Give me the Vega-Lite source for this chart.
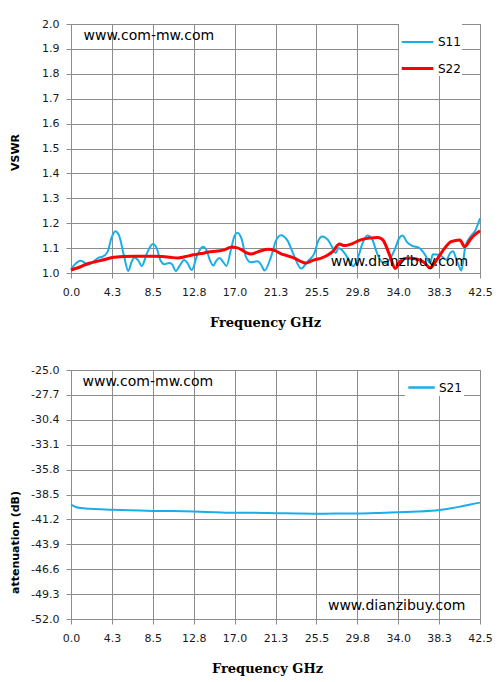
{
  "$schema": "https://vega.github.io/schema/vega-lite/v6.json",
  "background": "white",
  "padding": {"left": 8, "top": 17, "right": 5, "bottom": 5},
  "spacing": 33,
  "config": {
    "view": {"stroke": "#8c8c8c"},
    "axis": {
      "labelFont": "DejaVu Sans",
      "labelFontSize": 11,
      "labelColor": "#1a1a1a",
      "labelOverlap": false,
      "labelFlush": false,
      "gridColor": "#8c8c8c",
      "gridOpacity": 1,
      "domainColor": "#8c8c8c",
      "tickColor": "#8c8c8c",
      "tickSize": 5,
      "tickCount": 30,
      "titleColor": "#000000"
    }
  },
  "datasets": {
    "vswr": [
      {"f": 0.0, "v": 1.016, "s": "S11"}, {"f": 0.5, "v": 1.038, "s": "S11"}, {"f": 0.95, "v": 1.049, "s": "S11"}, {"f": 1.3, "v": 1.045, "s": "S11"}, {"f": 1.65, "v": 1.033, "s": "S11"}, {"f": 2.0, "v": 1.036, "s": "S11"}, {"f": 2.4, "v": 1.048, "s": "S11"}, {"f": 2.8, "v": 1.06, "s": "S11"}, {"f": 3.3, "v": 1.066, "s": "S11"}, {"f": 3.8, "v": 1.085, "s": "S11"}, {"f": 4.2, "v": 1.14, "s": "S11"}, {"f": 4.6, "v": 1.168, "s": "S11"}, {"f": 5.0, "v": 1.15, "s": "S11"}, {"f": 5.5, "v": 1.07, "s": "S11"}, {"f": 5.95, "v": 1.008, "s": "S11"}, {"f": 6.3, "v": 1.045, "s": "S11"}, {"f": 6.6, "v": 1.062, "s": "S11"}, {"f": 7.0, "v": 1.05, "s": "S11"}, {"f": 7.35, "v": 1.028, "s": "S11"}, {"f": 7.9, "v": 1.08, "s": "S11"}, {"f": 8.5, "v": 1.116, "s": "S11"}, {"f": 8.9, "v": 1.1, "s": "S11"}, {"f": 9.3, "v": 1.05, "s": "S11"}, {"f": 9.7, "v": 1.035, "s": "S11"}, {"f": 10.2, "v": 1.04, "s": "S11"}, {"f": 10.5, "v": 1.035, "s": "S11"}, {"f": 10.9, "v": 1.008, "s": "S11"}, {"f": 11.3, "v": 1.03, "s": "S11"}, {"f": 11.75, "v": 1.052, "s": "S11"}, {"f": 12.1, "v": 1.04, "s": "S11"}, {"f": 12.55, "v": 1.012, "s": "S11"}, {"f": 13.1, "v": 1.07, "s": "S11"}, {"f": 13.7, "v": 1.105, "s": "S11"}, {"f": 14.1, "v": 1.09, "s": "S11"}, {"f": 14.45, "v": 1.05, "s": "S11"}, {"f": 14.8, "v": 1.03, "s": "S11"}, {"f": 15.1, "v": 1.05, "s": "S11"}, {"f": 15.45, "v": 1.06, "s": "S11"}, {"f": 15.8, "v": 1.045, "s": "S11"}, {"f": 16.15, "v": 1.028, "s": "S11"}, {"f": 16.6, "v": 1.09, "s": "S11"}, {"f": 17.0, "v": 1.15, "s": "S11"}, {"f": 17.3, "v": 1.162, "s": "S11"}, {"f": 17.7, "v": 1.14, "s": "S11"}, {"f": 18.2, "v": 1.063, "s": "S11"}, {"f": 18.7, "v": 1.043, "s": "S11"}, {"f": 19.4, "v": 1.047, "s": "S11"}, {"f": 19.8, "v": 1.03, "s": "S11"}, {"f": 20.1, "v": 1.01, "s": "S11"}, {"f": 20.8, "v": 1.067, "s": "S11"}, {"f": 21.3, "v": 1.13, "s": "S11"}, {"f": 21.8, "v": 1.152, "s": "S11"}, {"f": 22.5, "v": 1.13, "s": "S11"}, {"f": 23.2, "v": 1.067, "s": "S11"}, {"f": 23.9, "v": 1.018, "s": "S11"}, {"f": 24.6, "v": 1.047, "s": "S11"}, {"f": 25.3, "v": 1.08, "s": "S11"}, {"f": 25.7, "v": 1.13, "s": "S11"}, {"f": 26.1, "v": 1.147, "s": "S11"}, {"f": 26.7, "v": 1.133, "s": "S11"}, {"f": 27.2, "v": 1.1, "s": "S11"}, {"f": 27.5, "v": 1.08, "s": "S11"}, {"f": 27.8, "v": 1.1, "s": "S11"}, {"f": 28.2, "v": 1.09, "s": "S11"}, {"f": 28.6, "v": 1.07, "s": "S11"}, {"f": 29.0, "v": 1.045, "s": "S11"}, {"f": 29.3, "v": 1.027, "s": "S11"}, {"f": 29.8, "v": 1.06, "s": "S11"}, {"f": 30.3, "v": 1.12, "s": "S11"}, {"f": 30.8, "v": 1.151, "s": "S11"}, {"f": 31.3, "v": 1.135, "s": "S11"}, {"f": 31.8, "v": 1.08, "s": "S11"}, {"f": 32.3, "v": 1.045, "s": "S11"}, {"f": 32.7, "v": 1.04, "s": "S11"}, {"f": 33.2, "v": 1.06, "s": "S11"}, {"f": 33.7, "v": 1.1, "s": "S11"}, {"f": 34.1, "v": 1.14, "s": "S11"}, {"f": 34.45, "v": 1.151, "s": "S11"}, {"f": 34.9, "v": 1.125, "s": "S11"}, {"f": 35.4, "v": 1.11, "s": "S11"}, {"f": 36.2, "v": 1.1, "s": "S11"}, {"f": 36.8, "v": 1.073, "s": "S11"}, {"f": 37.3, "v": 1.04, "s": "S11"}, {"f": 37.6, "v": 1.075, "s": "S11"}, {"f": 38.3, "v": 1.073, "s": "S11"}, {"f": 39.0, "v": 1.053, "s": "S11"}, {"f": 39.4, "v": 1.08, "s": "S11"}, {"f": 39.7, "v": 1.087, "s": "S11"}, {"f": 40.0, "v": 1.06, "s": "S11"}, {"f": 40.3, "v": 1.03, "s": "S11"}, {"f": 40.55, "v": 1.01, "s": "S11"}, {"f": 41.0, "v": 1.11, "s": "S11"}, {"f": 41.6, "v": 1.15, "s": "S11"}, {"f": 42.0, "v": 1.17, "s": "S11"}, {"f": 42.5, "v": 1.22, "s": "S11"},
      {"f": 0.0, "v": 1.012, "s": "S22"}, {"f": 0.8, "v": 1.022, "s": "S22"}, {"f": 1.8, "v": 1.038, "s": "S22"}, {"f": 2.5, "v": 1.045, "s": "S22"}, {"f": 3.3, "v": 1.052, "s": "S22"}, {"f": 4.3, "v": 1.062, "s": "S22"}, {"f": 5.5, "v": 1.066, "s": "S22"}, {"f": 6.6, "v": 1.067, "s": "S22"}, {"f": 7.5, "v": 1.067, "s": "S22"}, {"f": 8.5, "v": 1.067, "s": "S22"}, {"f": 9.5, "v": 1.066, "s": "S22"}, {"f": 10.3, "v": 1.063, "s": "S22"}, {"f": 11.1, "v": 1.06, "s": "S22"}, {"f": 11.8, "v": 1.065, "s": "S22"}, {"f": 12.7, "v": 1.073, "s": "S22"}, {"f": 13.5, "v": 1.078, "s": "S22"}, {"f": 14.3, "v": 1.084, "s": "S22"}, {"f": 15.2, "v": 1.088, "s": "S22"}, {"f": 16.0, "v": 1.094, "s": "S22"}, {"f": 16.7, "v": 1.104, "s": "S22"}, {"f": 17.2, "v": 1.102, "s": "S22"}, {"f": 17.7, "v": 1.094, "s": "S22"}, {"f": 18.2, "v": 1.082, "s": "S22"}, {"f": 18.7, "v": 1.076, "s": "S22"}, {"f": 19.4, "v": 1.085, "s": "S22"}, {"f": 20.45, "v": 1.095, "s": "S22"}, {"f": 21.2, "v": 1.09, "s": "S22"}, {"f": 21.9, "v": 1.076, "s": "S22"}, {"f": 22.6, "v": 1.068, "s": "S22"}, {"f": 23.2, "v": 1.06, "s": "S22"}, {"f": 23.8, "v": 1.048, "s": "S22"}, {"f": 24.4, "v": 1.04, "s": "S22"}, {"f": 24.9, "v": 1.047, "s": "S22"}, {"f": 25.3, "v": 1.053, "s": "S22"}, {"f": 26.0, "v": 1.06, "s": "S22"}, {"f": 26.6, "v": 1.07, "s": "S22"}, {"f": 27.2, "v": 1.087, "s": "S22"}, {"f": 27.9, "v": 1.116, "s": "S22"}, {"f": 28.4, "v": 1.11, "s": "S22"}, {"f": 29.1, "v": 1.116, "s": "S22"}, {"f": 30.1, "v": 1.133, "s": "S22"}, {"f": 31.0, "v": 1.14, "s": "S22"}, {"f": 31.9, "v": 1.143, "s": "S22"}, {"f": 32.4, "v": 1.133, "s": "S22"}, {"f": 33.1, "v": 1.073, "s": "S22"}, {"f": 33.7, "v": 1.018, "s": "S22"}, {"f": 34.2, "v": 1.047, "s": "S22"}, {"f": 34.9, "v": 1.06, "s": "S22"}, {"f": 35.9, "v": 1.056, "s": "S22"}, {"f": 36.8, "v": 1.04, "s": "S22"}, {"f": 37.3, "v": 1.02, "s": "S22"}, {"f": 38.0, "v": 1.053, "s": "S22"}, {"f": 38.7, "v": 1.093, "s": "S22"}, {"f": 39.5, "v": 1.126, "s": "S22"}, {"f": 40.4, "v": 1.133, "s": "S22"}, {"f": 40.9, "v": 1.106, "s": "S22"}, {"f": 41.6, "v": 1.14, "s": "S22"}, {"f": 42.0, "v": 1.155, "s": "S22"}, {"f": 42.5, "v": 1.17, "s": "S22"}
    ],
    "att": [
      {"f": 0.0, "v": -39.6, "s": "S21"}, {"f": 0.5, "v": -39.85, "s": "S21"}, {"f": 1.0, "v": -39.97, "s": "S21"}, {"f": 2.0, "v": -40.05, "s": "S21"}, {"f": 4.3, "v": -40.15, "s": "S21"}, {"f": 6.0, "v": -40.22, "s": "S21"}, {"f": 8.5, "v": -40.28, "s": "S21"}, {"f": 10.5, "v": -40.3, "s": "S21"}, {"f": 12.8, "v": -40.35, "s": "S21"}, {"f": 15.0, "v": -40.42, "s": "S21"}, {"f": 17.0, "v": -40.48, "s": "S21"}, {"f": 19.0, "v": -40.48, "s": "S21"}, {"f": 21.3, "v": -40.52, "s": "S21"}, {"f": 23.5, "v": -40.56, "s": "S21"}, {"f": 25.5, "v": -40.58, "s": "S21"}, {"f": 27.5, "v": -40.57, "s": "S21"}, {"f": 29.8, "v": -40.56, "s": "S21"}, {"f": 32.0, "v": -40.5, "s": "S21"}, {"f": 34.0, "v": -40.42, "s": "S21"}, {"f": 36.0, "v": -40.35, "s": "S21"}, {"f": 38.3, "v": -40.18, "s": "S21"}, {"f": 39.5, "v": -40.0, "s": "S21"}, {"f": 40.5, "v": -39.8, "s": "S21"}, {"f": 41.5, "v": -39.58, "s": "S21"}, {"f": 42.5, "v": -39.38, "s": "S21"}
    ],
    "wmTop": [
      {"f": 1.3, "v": 1.95, "t": "www.com-mw.com"},
      {"f": 27.0, "v": 1.043, "t": "www.dianzibuy.com"}
    ],
    "wmBottom": [
      {"f": 1.2, "v": -26.34, "t": "www.com-mw.com"},
      {"f": 26.7, "v": -50.56, "t": "www.dianzibuy.com"}
    ]
  },
  "resolve": {"scale": {"color": "independent", "strokeWidth": "independent"}, "legend": {"color": "independent"}},
  "vconcat": [
    {
      "width": 409,
      "height": 249,
      "layer": [
        {
          "data": {"name": "vswr"},
          "mark": {"type": "line", "interpolate": "monotone"},
          "encoding": {
            "x": {
              "field": "f", "type": "quantitative",
              "scale": {"domain": [0, 42.5], "nice": false, "zero": false},
              "axis": {
                "values": [0, 4.25, 8.5, 12.75, 17, 21.25, 25.5, 29.75, 34, 38.25, 42.5],
                "tickCount": 30,
                "format": ".1f", "title": "Frequency GHz",
                "labelPadding": 8,
                "titleFont": "DejaVu Serif", "titleFontSize": 13, "titleFontWeight": "bold",
                "titleX": 194, "titleY": 49, "titleBaseline": "middle", "titleAnchor": "middle", "titleAlign": "center"
              }
            },
            "y": {
              "field": "v", "type": "quantitative",
              "scale": {"domain": [1, 2], "nice": false, "zero": false},
              "axis": {
                "values": [1.0, 1.1, 1.2, 1.3, 1.4, 1.5, 1.6, 1.7, 1.8, 1.9, 2.0],
                "tickCount": 30,
                "format": ".1f", "title": "VSWR",
                "labelPadding": 7,
                "titleFont": "DejaVu Sans", "titleFontSize": 11, "titleFontWeight": "bold",
                "titleX": -56, "titleY": 128, "titleBaseline": "middle", "titleAlign": "center", "titleAngle": -90
              }
            },
            "color": {
              "field": "s", "type": "nominal",
              "scale": {"domain": ["S11", "S22"], "range": ["#1aaee8", "#ff0000"]},
              "legend": {
                "title": null, "orient": "none", "legendX": 328, "legendY": 0,
                "fillColor": "white", "padding": 1, "symbolType": "stroke", "symbolSize": 1000,
                "symbolStrokeWidth": 2.5, "labelFont": "DejaVu Sans", "labelFontSize": 12,
                "labelColor": "#000000", "labelOffset": 3, "rowPadding": 3
              }
            },
            "strokeWidth": {
              "field": "s", "type": "nominal",
              "scale": {"domain": ["S11", "S22"], "range": [2, 3]},
              "legend": null
            }
          }
        },
        {
          "data": {"name": "wmTop"},
          "mark": {"type": "text", "align": "left", "baseline": "middle", "font": "DejaVu Sans", "fontSize": 14, "color": "#000000"},
          "encoding": {
            "x": {"field": "f", "type": "quantitative"},
            "y": {"field": "v", "type": "quantitative"},
            "text": {"field": "t"}
          }
        }
      ]
    },
    {
      "width": 409,
      "height": 249,
      "layer": [
        {
          "data": {"name": "att"},
          "mark": {"type": "line", "interpolate": "monotone", "strokeWidth": 2},
          "encoding": {
            "x": {
              "field": "f", "type": "quantitative",
              "scale": {"domain": [0, 42.5], "nice": false, "zero": false},
              "axis": {
                "values": [0, 4.25, 8.5, 12.75, 17, 21.25, 25.5, 29.75, 34, 38.25, 42.5],
                "tickCount": 30,
                "format": ".1f", "title": "Frequency GHz",
                "labelPadding": 8,
                "titleFont": "DejaVu Serif", "titleFontSize": 13, "titleFontWeight": "bold",
                "titleX": 196, "titleY": 49, "titleBaseline": "middle", "titleAnchor": "middle", "titleAlign": "center"
              }
            },
            "y": {
              "field": "v", "type": "quantitative",
              "scale": {"domain": [-52, -25], "nice": false, "zero": false},
              "axis": {
                "values": [-25.0, -27.7, -30.4, -33.1, -35.8, -38.5, -41.2, -43.9, -46.6, -49.3, -52.0],
                "tickCount": 30,
                "labelExpr": "replace(format(datum.value, '.1f'), '\u2212', '-')",
                "title": "attenuation (dB)",
                "labelPadding": 7,
                "titleFont": "DejaVu Sans", "titleFontSize": 11, "titleFontWeight": "bold",
                "titleX": -56, "titleY": 172, "titleBaseline": "middle", "titleAlign": "center", "titleAngle": -90
              }
            },
            "color": {
              "field": "s", "type": "nominal",
              "scale": {"domain": ["S21"], "range": ["#1aaee8"]},
              "legend": {
                "title": null, "orient": "none", "legendX": 334, "legendY": 1,
                "fillColor": "white", "padding": 2, "symbolType": "stroke", "symbolSize": 700,
                "symbolStrokeWidth": 2.5, "labelFont": "DejaVu Sans", "labelFontSize": 12,
                "labelColor": "#000000", "labelOffset": 3
              }
            }
          }
        },
        {
          "data": {"name": "wmBottom"},
          "mark": {"type": "text", "align": "left", "baseline": "middle", "font": "DejaVu Sans", "fontSize": 14, "color": "#000000"},
          "encoding": {
            "x": {"field": "f", "type": "quantitative"},
            "y": {"field": "v", "type": "quantitative"},
            "text": {"field": "t"}
          }
        }
      ]
    }
  ]
}
